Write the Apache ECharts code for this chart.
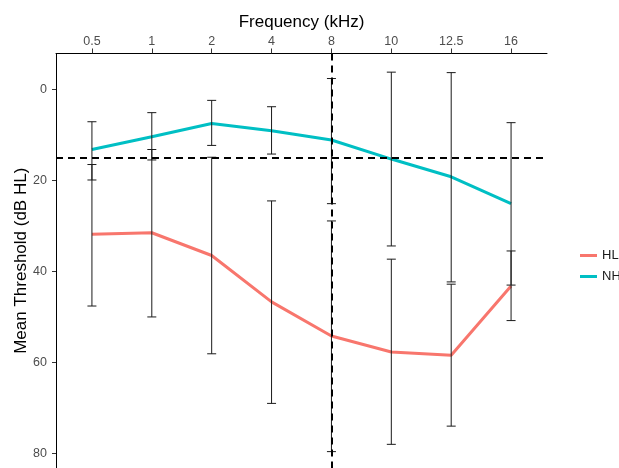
<!DOCTYPE html>
<html>
<head>
<meta charset="utf-8">
<script src="https://cdn.jsdelivr.net/npm/echarts@6/dist/echarts.min.js"></script>
<style>
  html, body { margin: 0; padding: 0; background: #fff; }
  #audiogram_chart { width: 619px; height: 468px; }
</style>
</head>
<body>
<div id="audiogram_chart"></div>
<script>
// data (dB HL, y grows downwards)
var freqs = ['0.5', '1', '2', '4', '8', '10', '12.5', '16'];
var hlMean = [31.8, 31.5, 36.5, 46.7, 54.2, 57.7, 58.4, 43.2];
var hlLow  = [16.5, 13.2, 14.9, 24.5, 28.9, 37.3, 42.8, 35.5];
var hlHigh = [47.6, 50.0, 58.1, 69.0, 79.6, 78.0, 74.0, 50.8];
var nhMean = [13.2, 10.4, 7.5, 9.1, 11.1, 15.3, 19.2, 25.1];
var nhLow  = [7.1, 5.1, 2.4, 3.8, -2.4, -3.8, -3.7, 7.3];
var nhHigh = [19.9, 15.5, 12.3, 14.2, 25.1, 34.4, 42.3, 43.0];
var yTicks = [0, 20, 40, 60, 80];
var refFreqIndex = 4;   // 8 kHz
var refThreshold = 15;

var font = 'Arial, "Liberation Sans", sans-serif';
var xTicks = freqs.map(function (f, i) { return i; });

function points(vals) {
    return vals.map(function (v, i) { return [i, v]; });
}
function bars(lo, hi) {
    return lo.map(function (v, i) { return [i, v, hi[i]]; });
}

function renderErrorBar(params, api) {
    var x = api.value(0);
    var p1 = api.coord([x, api.value(1)]);
    var p2 = api.coord([x, api.value(2)]);
    var half = 4.5;
    var style = { stroke: '#1a1a1a', lineWidth: 1 };
    return {
        type: 'group',
        children: [
            { type: 'line', shape: { x1: p1[0], y1: p1[1], x2: p2[0], y2: p2[1] }, style: style },
            { type: 'line', shape: { x1: p1[0] - half, y1: p1[1], x2: p1[0] + half, y2: p1[1] }, style: style },
            { type: 'line', shape: { x1: p2[0] - half, y1: p2[1], x2: p2[0] + half, y2: p2[1] }, style: style }
        ]
    };
}

var chart = echarts.init(document.getElementById('audiogram_chart'));

var option = {
    animation: false,
    backgroundColor: '#fff',
    textStyle: { fontFamily: font },
    grid: { left: 56, top: 53.5, right: 72, bottom: 0 },
    legend: {
        orient: 'vertical',
        left: 575,
        top: 244,
        itemWidth: 17,
        itemHeight: 3,
        itemGap: 8,
        icon: 'rect',
        data: ['HL', 'NH'],
        textStyle: { fontSize: 13, color: '#1a1a1a', fontFamily: font }
    },
    xAxis: {
        type: 'value',
        position: 'top',
        min: -0.6,
        max: 7.6,
        name: 'Frequency (kHz)',
        nameLocation: 'middle',
        nameGap: 23,
        nameTextStyle: { fontSize: 17, color: '#000', fontFamily: font },
        axisLine: { show: true, onZero: false, lineStyle: { color: '#000', width: 1 } },
        axisTick: { show: true, length: 5, customValues: xTicks, lineStyle: { color: '#333' } },
        axisLabel: {
            customValues: xTicks,
            margin: 5,
            fontSize: 12.5,
            color: '#4D4D4D',
            fontFamily: font,
            formatter: function (v) { return freqs[Math.round(v)]; }
        },
        splitLine: { show: false }
    },
    yAxis: {
        type: 'value',
        inverse: true,
        min: -7.9,
        max: 83.2,
        name: 'Mean Threshold (dB HL)',
        nameLocation: 'middle',
        nameGap: 26,
        nameMoveOverlap: false,
        nameTextStyle: { fontSize: 17, color: '#000', fontFamily: font },
        axisLine: { show: true, onZero: false, lineStyle: { color: '#000', width: 1 } },
        axisTick: { show: true, length: 4, customValues: yTicks, lineStyle: { color: '#333' } },
        axisLabel: {
            customValues: yTicks,
            margin: 9,
            fontSize: 12.5,
            color: '#4D4D4D',
            fontFamily: font
        },
        splitLine: { show: false }
    },
    series: [
        {
            name: 'HL',
            type: 'line',
            data: points(hlMean),
            symbol: 'none',
            color: '#F8766D',
            lineStyle: { width: 3, color: '#F8766D' },
            z: 2
        },
        {
            name: 'NH',
            type: 'line',
            data: points(nhMean),
            symbol: 'none',
            color: '#00BFC4',
            lineStyle: { width: 3, color: '#00BFC4' },
            z: 2
        },
        {
            name: 'HL bars',
            type: 'custom',
            renderItem: renderErrorBar,
            encode: { x: 0, y: [1, 2] },
            data: bars(hlLow, hlHigh),
            z: 4
        },
        {
            name: 'NH bars',
            type: 'custom',
            renderItem: renderErrorBar,
            encode: { x: 0, y: [1, 2] },
            data: bars(nhLow, nhHigh),
            z: 4
        },
        {
            name: 'ref',
            type: 'line',
            data: [],
            z: 6,
            markLine: {
                silent: true,
                symbol: 'none',
                label: { show: false },
                lineStyle: { color: '#000', width: 2, type: [7, 5] },
                data: [
                    { xAxis: refFreqIndex },
                    { yAxis: refThreshold }
                ]
            }
        }
    ]
};

chart.setOption(option);
</script>
</body>
</html>
